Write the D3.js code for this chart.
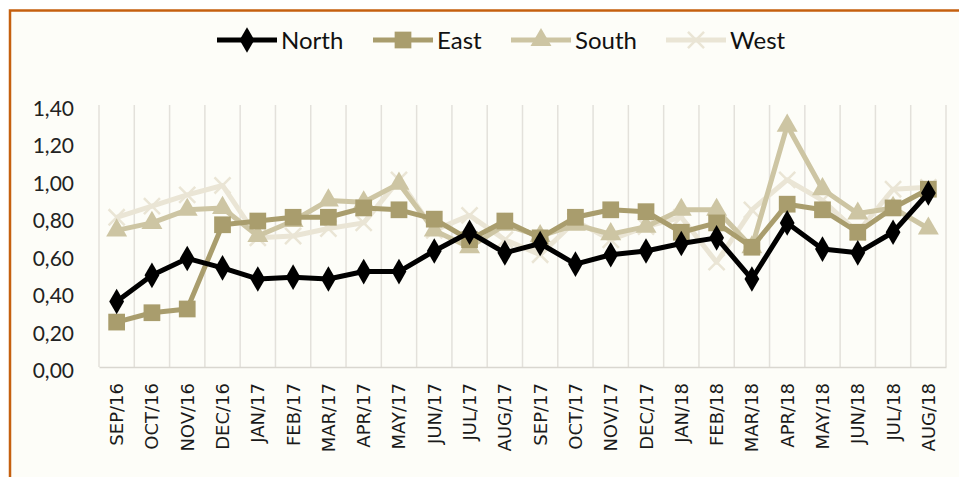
<!DOCTYPE html>
<html>
<head>
<meta charset="utf-8">
<script src="https://cdn.jsdelivr.net/npm/d3@7"></script>
<style>
  body { margin: 0; background: #fff; }
  svg { display: block; }
</style>
</head>
<body>
<div id="chart"></div>
<script>
// months on the x axis
var months = ["SEP/16","OCT/16","NOV/16","DEC/16","JAN/17","FEB/17","MAR/17","APR/17",
  "MAY/17","JUN/17","JUL/17","AUG/17","SEP/17","OCT/17","NOV/17","DEC/17",
  "JAN/18","FEB/18","MAR/18","APR/18","MAY/18","JUN/18","JUL/18","AUG/18"];

var north = [0.35,0.49,0.58,0.53,0.47,0.48,0.47,0.51,0.51,0.62,0.72,0.61,
  0.66,0.55,0.60,0.62,0.66,0.69,0.47,0.77,0.63,0.61,0.72,0.93];
var east = [0.24,0.29,0.31,0.76,0.78,0.80,0.80,0.85,0.84,0.79,0.68,0.78,
  0.69,0.80,0.84,0.83,0.72,0.77,0.64,0.87,0.84,0.72,0.85,0.95];
var south = [0.73,0.77,0.84,0.85,0.70,0.78,0.89,0.88,0.98,0.73,0.64,0.76,
  0.70,0.76,0.71,0.75,0.84,0.84,0.64,1.29,0.95,0.82,0.85,0.74];
var west = [0.80,0.86,0.92,0.97,0.69,0.70,0.74,0.77,1.00,0.73,0.81,0.68,
  0.60,0.78,0.68,0.75,0.80,0.56,0.84,1.00,0.89,0.72,0.95,0.96];

var yTicks = [0,0.2,0.4,0.6,0.8,1.0,1.2,1.4];

var width = 959, height = 477;
var plotLeft = 99, plotRight = 946, plotTop = 105, plotBottom = 367;

var svg = d3.select("#chart").append("svg")
  .attr("width", width)
  .attr("height", height);

// background + orange frame
svg.append("rect")
  .attr("x", 10).attr("y", 10)
  .attr("width", width).attr("height", height)
  .attr("fill", "#fdfdf8");
svg.append("path")
  .attr("d", "M10," + height + "V10.5H" + width)
  .attr("fill", "none")
  .attr("stroke", "#c5600f")
  .attr("stroke-width", 2.5);

var x = d3.scaleBand().domain(months).range([plotLeft, plotRight]);
var y = d3.scaleLinear().domain([0, 1.4]).range([plotBottom, plotTop]);

// vertical gridlines between months
svg.append("g")
  .selectAll("line")
  .data(d3.range(months.length + 1))
  .enter()
  .append("line")
    .attr("x1", function(d){ return plotLeft + d * x.bandwidth(); })
    .attr("x2", function(d){ return plotLeft + d * x.bandwidth(); })
    .attr("y1", plotTop)
    .attr("y2", plotBottom)
    .attr("stroke", "#e3e1db")
    .attr("stroke-width", 1.5);

// x axis
var xAxis = svg.append("g")
  .attr("transform", "translate(0," + plotBottom + ")")
  .call(d3.axisBottom(x).tickSize(0).tickPadding(0));
xAxis.select(".domain").attr("stroke", "#d9d7d0").attr("stroke-width", 1.5);
xAxis.selectAll("text")
  .attr("transform", "rotate(-90)")
  .attr("x", -16)
  .attr("y", 0)
  .attr("dy", "0.36em")
  .style("text-anchor", "end")
  .style("font-family", "DejaVu Sans")
  .style("font-size", "18px")
  .attr("fill", "#1a1a1a");

// y axis (labels only)
var fmt = function(d){ return d3.format(".2f")(d).replace(".", ","); };
var yAxis = svg.append("g")
  .attr("transform", "translate(74,0)")
  .call(d3.axisLeft(y).tickValues(yTicks).tickFormat(fmt).tickSize(0).tickPadding(0));
yAxis.select(".domain").remove();
yAxis.selectAll("text")
  .attr("dy", "0.5em")
  .style("font-family", "Lato")
  .style("font-size", "21px")
  .attr("fill", "#222");

var series = [
  {name: "North", values: north, color: "#000000", shape: d3.symbolDiamond, size: 190},
  {name: "East", values: east, color: "#a99d6d", shape: d3.symbolSquare, size: 280},
  {name: "South", values: south, color: "#cdc5a3", shape: d3.symbolTriangle, size: 190},
  {name: "West", values: west, color: "#eae5d5", shape: d3.symbolX, size: 170}
];

var line = d3.line()
  .x(function(d, i){ return x(months[i]) + x.bandwidth() / 2; })
  .y(function(d){ return y(d); });

// draw last series first so North is on top
series.slice().reverse().forEach(function(s){
  var g = svg.append("g");
  g.append("path")
    .datum(s.values)
    .attr("d", line)
    .attr("fill", "none")
    .attr("stroke", s.color)
    .attr("stroke-width", 5)
    .attr("stroke-linejoin", "round");
  var sym = d3.symbol().type(s.shape).size(s.size);
  g.selectAll("path.pt")
    .data(s.values)
    .enter()
    .append("path")
      .attr("class", "pt")
      .attr("d", sym)
      .attr("transform", function(d, i){
        return "translate(" + (x(months[i]) + x.bandwidth() / 2) + "," + y(d) + ")";
      })
      .attr("fill", s.color)
      .attr("stroke", s.color)
      .attr("stroke-width", s.shape === d3.symbolX ? 2.5 : 0);
});

// legend
var legendX = [217, 373, 511, 666];
var legend = svg.append("g");
series.forEach(function(s, i){
  var lg = legend.append("g").attr("transform", "translate(" + legendX[i] + ",40)");
  lg.append("line")
    .attr("x1", 0).attr("x2", 60)
    .attr("stroke", s.color)
    .attr("stroke-width", 5);
  lg.append("path")
    .attr("d", d3.symbol().type(s.shape).size(s.size))
    .attr("transform", "translate(30,0)")
    .attr("fill", s.color)
    .attr("stroke", s.color)
    .attr("stroke-width", s.shape === d3.symbolX ? 2.5 : 0);
  lg.append("text")
    .attr("x", 64)
    .attr("dy", "0.36em")
    .style("font-family", "Lato")
    .style("font-size", "24px")
    .attr("fill", "#111")
    .text(s.name);
});
</script>
</body>
</html>
